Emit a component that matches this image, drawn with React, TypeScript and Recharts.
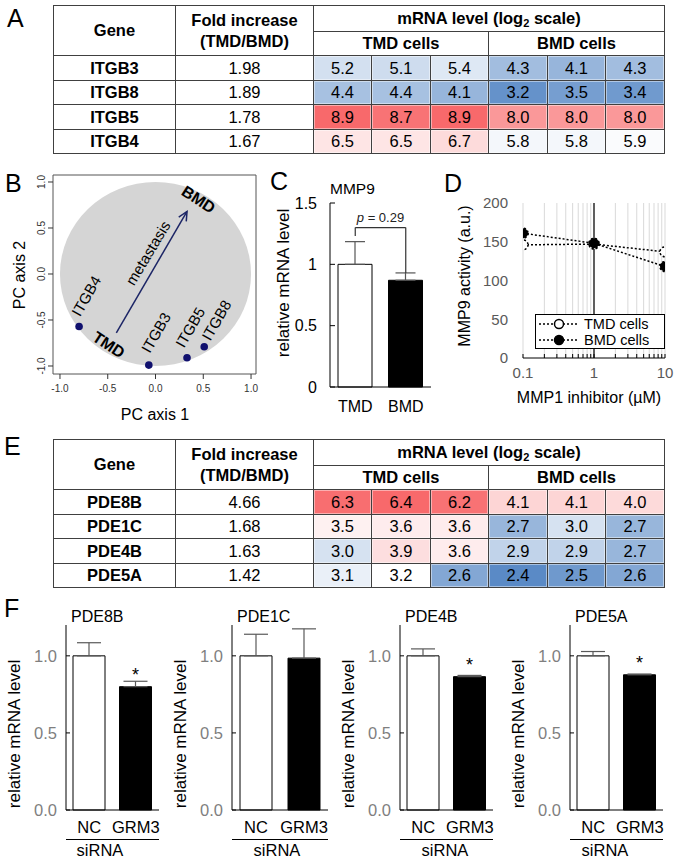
import React from 'react';
import {
  ScatterChart, Scatter, XAxis, YAxis, ReferenceArea, ReferenceLine,
  BarChart, Bar, Cell, ErrorBar, LabelList, LineChart, Line, CartesianGrid, Legend,
} from 'recharts';

const FONT = '"Liberation Sans", Arial, Helvetica, sans-serif';

// ---------------- Panel A : integrin table ----------------
const itgbGenes = ['ITGB3', 'ITGB8', 'ITGB5', 'ITGB4'];
const itgbFold = ['1.98', '1.89', '1.78', '1.67'];
const itgbTMD = [[5.2, 5.1, 5.4], [4.4, 4.4, 4.1], [8.9, 8.7, 8.9], [6.5, 6.5, 6.7]];
const itgbBMD = [[4.3, 4.1, 4.3], [3.2, 3.5, 3.4], [8.0, 8.0, 8.0], [5.8, 5.8, 5.9]];
const itgbColorScale = { lo: 3.0, mid: 6.0, hi: 8.9 };

// ---------------- Panel B : PCA ----------------
const pcaGeneNames = ['ITGB4', 'ITGB3', 'ITGB5', 'ITGB8'];
const pcaGenePC1 = [-0.80, -0.07, 0.33, 0.51];
const pcaGenePC2 = [-0.57, -0.99, -0.91, -0.79];
const pcaTicks = [-1, -0.5, 0, 0.5, 1];
const pcaDomainX = [-1.073, 1.052];
const pcaDomainY = [-1.087, 1.076];
const pcaCloudRange = [-1, 1];
const metastasisArrow = [{ x: -0.41, y: -0.64 }, { x: 0.33, y: 0.68 }];
const pcaGroupNames = ['TMD', 'BMD'];
const pcaGroupPC1 = [-0.49, 0.45];
const pcaGroupPC2 = [-0.77, 0.81];
const metastasisLabel = [{ name: 'metastasis', pc1: -0.08, pc2: 0.23 }];

// ---------------- Panel C : MMP9 ----------------
const mmp9Groups = ['TMD', 'BMD'];
const mmp9Level = [1.0, 0.87];
const mmp9Err = [0.185, 0.06];
const mmp9Ticks = [0, 0.5, 1, 1.5];
const mmp9Bracket = { top: 1.30, left: 1.23, right: 0.93 };

// ---------------- Panel D : MMP9 activity ----------------
const inhibitorDose = [0.1, 1, 10];
const tmdActivity = [146, 147, 137];
const bmdActivity = [161, 148, 118];
const activityTicks = [0, 50, 100, 150, 200];
const doseAxisTicks = [0.1, 0.2, 0.3, 0.4, 0.5, 0.6, 0.7, 0.8, 0.9, 1, 2, 3, 4, 5, 6, 7, 8, 9, 10];
const doseMajorTicks = [0.1, 1, 10];

// ---------------- Panel E : PDE table ----------------
const pdeGenes = ['PDE8B', 'PDE1C', 'PDE4B', 'PDE5A'];
const pdeFold = ['4.66', '1.68', '1.63', '1.42'];
const pdeTMD = [[6.3, 6.4, 6.2], [3.5, 3.6, 3.6], [3.0, 3.9, 3.6], [3.1, 3.2, 2.6]];
const pdeBMD = [[4.1, 4.1, 4.0], [2.7, 3.0, 2.7], [2.9, 2.9, 2.7], [2.4, 2.5, 2.6]];
const pdeColorScale = { lo: 2.4, mid: 3.2, hi: 6.4 };

// ---------------- Panel F : siRNA ----------------
const sirnaGroups = ['NC', 'GRM3'];
const sirnaLevels = [[1.0, 0.80], [1.0, 0.985], [1.0, 0.865], [1.0, 0.877]];
const sirnaErrs = [[0.085, 0.035], [0.14, 0.19], [0.045, 0.008], [0.028, 0.005]];
const sirnaStars = [['', '*'], ['', ''], ['', '*'], ['', '*']];
const sirnaTicks = [0, 0.5, 1];

// ---------------- helpers ----------------
const BLUE = [90, 138, 198];
const RED = [248, 105, 107];
function heat(v: number, s: { lo: number; mid: number; hi: number }) {
  let target = BLUE;
  let t = 0;
  if (v <= s.mid) { t = Math.min(1, (s.mid - v) / (s.mid - s.lo)); target = BLUE; }
  else { t = Math.min(1, (v - s.mid) / (s.hi - s.mid)); target = RED; }
  const c = target.map((k) => Math.round(255 + (k - 255) * t));
  return `rgb(${c.join(',')})`;
}

const TCOLS = [0, 122, 260, 318, 377, 435, 494, 552, 611];
const TROWS = [0, 26, 50, 75, 99, 124, 148];
const LINE = '#404040';

function ExprTable({ top, genes, fold, tmd, bmd, scale }: any) {
  const cells: any[] = [];
  const cell = (key: string, x0: number, x1: number, y0: number, y1: number, content: any, style: any = {}) => {
    cells.push(
      <div key={key} style={{
        position: 'absolute', left: x0, top: y0, width: x1 - x0 + 1, height: y1 - y0 + 1,
        border: `1px solid ${LINE}`, boxSizing: 'border-box', display: 'flex', alignItems: 'center',
        justifyContent: 'center', textAlign: 'center', ...style,
      }}>{content}</div>
    );
  };
  cell('h-gene', TCOLS[0], TCOLS[1], TROWS[0], TROWS[2], 'Gene', { fontWeight: 'bold' });
  cell('h-fold', TCOLS[1], TCOLS[2], TROWS[0], TROWS[2],
    <div style={{ lineHeight: '21px' }}>Fold increase<br />(TMD/BMD)</div>, { fontWeight: 'bold' });
  cell('h-mrna', TCOLS[2], TCOLS[8], TROWS[0], TROWS[1],
    <span>mRNA level (log<sub style={{ fontSize: 11, verticalAlign: -3 }}>2</sub> scale)</span>, { fontWeight: 'bold' });
  cell('h-tmd', TCOLS[2], TCOLS[5], TROWS[1], TROWS[2], 'TMD cells', { fontWeight: 'bold' });
  cell('h-bmd', TCOLS[5], TCOLS[8], TROWS[1], TROWS[2], 'BMD cells', { fontWeight: 'bold' });
  genes.forEach((g: string, r: number) => {
    const y0 = TROWS[r + 2];
    const y1 = TROWS[r + 3];
    cell(`g${r}`, TCOLS[0], TCOLS[1], y0, y1, g, { fontWeight: 'bold' });
    cell(`f${r}`, TCOLS[1], TCOLS[2], y0, y1, fold[r]);
    const vals = [...tmd[r], ...bmd[r]];
    vals.forEach((v: number, c: number) => {
      cell(`v${r}-${c}`, TCOLS[c + 2], TCOLS[c + 3], y0, y1, v.toFixed(1), {
        background: heat(v, scale), boxShadow: 'inset 0 0 0 1px rgba(255,255,255,0.45)',
      });
    });
  });
  return (
    <div style={{ position: 'absolute', left: 53, top, width: 612, height: 149, fontFamily: FONT, fontSize: 16.5, color: '#000' }}>
      {cells}
    </div>
  );
}

// ---------------- Panel B ----------------
const pcaGenePoints = pcaGeneNames.map((name, i) => ({ name, pc1: pcaGenePC1[i], pc2: pcaGenePC2[i] }));
const pcaGroupPoints = pcaGroupNames.map((name, i) => ({ name, pc1: pcaGroupPC1[i], pc2: pcaGroupPC2[i] }));
// label offsets in pixels (style only)
const geneLabelOffset: Record<string, [number, number]> = {
  ITGB4: [1, -9], ITGB3: [1, -11], ITGB5: [-3, -9], ITGB8: [6, -5],
};

const RotTick = (p: any) => (
  <text x={p.x} y={p.y} transform={`rotate(-90 ${p.x} ${p.y})`} textAnchor="middle" fontSize={10} fill="#333" fontFamily={FONT}>
    {Number(p.payload.value).toFixed(1)}
  </text>
);

const DiscShape = (p: any) => (
  <ellipse cx={p.x + p.width / 2} cy={p.y + p.height / 2} rx={Math.abs(p.width) / 2} ry={Math.abs(p.height) / 2} fill="#d5d5d5" />
);

const ArrowShape = (p: any) => {
  const { x1, y1, x2, y2 } = p;
  const a = Math.atan2(y2 - y1, x2 - x1);
  const L = 10;
  const s = 0.45;
  const hx1 = x2 - L * Math.cos(a - s);
  const hy1 = y2 - L * Math.sin(a - s);
  const hx2 = x2 - L * Math.cos(a + s);
  const hy2 = y2 - L * Math.sin(a + s);
  return (
    <g stroke="#1c2566" strokeWidth={1.5} fill="none">
      <line x1={x1} y1={y1} x2={x2} y2={y2} />
      <path d={`M${hx1},${hy1} L${x2},${y2} L${hx2},${hy2}`} />
    </g>
  );
};

const GeneDot = (p: any) => {
  const off = geneLabelOffset[p.payload.name] || [2, -9];
  const tx = p.cx + off[0];
  const ty = p.cy + off[1];
  return (
    <g>
      <circle cx={p.cx} cy={p.cy} r={3.8} fill="#10106e" />
      <text x={tx} y={ty} transform={`rotate(-60 ${tx} ${ty})`} fontSize={15} fontFamily={FONT} fill="#000">{p.payload.name}</text>
    </g>
  );
};

const GroupLabel = (p: any) => (
  <text x={p.cx} y={p.cy} transform={`rotate(33 ${p.cx} ${p.cy})`} textAnchor="middle" dominantBaseline="central"
    fontSize={16} fontWeight="bold" fontFamily={FONT} fill="#000">{p.payload.name}</text>
);

const MetLabel = (p: any) => (
  <text x={p.cx} y={p.cy} transform={`rotate(-59 ${p.cx} ${p.cy})`} textAnchor="middle" dominantBaseline="central"
    fontSize={15} fontFamily={FONT} fill="#000">{p.payload.name}</text>
);

function PanelB() {
  return (
    <ScatterChart width={262} height={265} margin={{ top: 15, right: 6, bottom: 21, left: 23 }}>
      <XAxis type="number" dataKey="pc1" domain={pcaDomainX} allowDataOverflow ticks={pcaTicks} interval={0}
        tickFormatter={(v: number) => v.toFixed(1)} height={30} axisLine={false} tickSize={5} tickMargin={6}
        tickLine={{ stroke: '#333' }} tick={{ fontSize: 10, fill: '#333', fontFamily: FONT }} />
      <YAxis type="number" dataKey="pc2" domain={pcaDomainY} allowDataOverflow ticks={pcaTicks} interval={0}
        width={30} axisLine={false} tickSize={5} tickMargin={3} tickLine={{ stroke: '#333' }} tick={RotTick} />
      <ReferenceArea x1={pcaCloudRange[0]} x2={pcaCloudRange[1]} y1={pcaCloudRange[0]} y2={pcaCloudRange[1]} shape={DiscShape} />
      <ReferenceLine segment={metastasisArrow} shape={ArrowShape} />
      <Scatter data={pcaGroupPoints} shape={GroupLabel} isAnimationActive={false} />
      <Scatter data={metastasisLabel} shape={MetLabel} isAnimationActive={false} />
      <Scatter data={pcaGenePoints} shape={GeneDot} isAnimationActive={false} />
      <ReferenceArea x1={pcaDomainX[0]} x2={pcaDomainX[1]} y1={pcaDomainY[0]} y2={pcaDomainY[1]} fill="none" fillOpacity={0} stroke="#555" strokeWidth={1} />
    </ScatterChart>
  );
}

// ---------------- Panel C ----------------
const mmp9Data = mmp9Groups.map((g, i) => ({ group: g, level: mmp9Level[i], err: [0, mmp9Err[i]] }));

function PanelC() {
  return (
    <BarChart width={170} height={250} data={mmp9Data} margin={{ top: 33, right: 9, left: 10, bottom: 3 }} barSize={34}>
      <XAxis dataKey="group" height={30} tickLine={false} tickSize={0} tickMargin={14} axisLine={{ stroke: '#000' }}
        tick={{ fill: '#000', fontSize: 16, fontFamily: FONT }} />
      <YAxis width={50} domain={[0, 1.5]} ticks={mmp9Ticks} interval={0} tickSize={-5} tickMargin={18}
        axisLine={{ stroke: '#000' }} tickLine={{ stroke: '#000' }} tickFormatter={(v: number) => String(v)}
        tick={{ fill: '#000', fontSize: 16, fontFamily: FONT }} />
      <Bar dataKey="level" stroke="#000" strokeWidth={1} isAnimationActive={false}>
        {mmp9Data.map((d, i) => <Cell key={d.group} fill={i === 0 ? '#fff' : '#000'} />)}
        <ErrorBar dataKey="err" width={10} stroke="#555" strokeWidth={1.2} direction="y" />
      </Bar>
      <ReferenceLine segment={[{ x: 'TMD', y: mmp9Bracket.left }, { x: 'TMD', y: mmp9Bracket.top }]} stroke="#333" strokeWidth={1.2} />
      <ReferenceLine segment={[{ x: 'BMD', y: mmp9Bracket.right }, { x: 'BMD', y: mmp9Bracket.top }]} stroke="#333" strokeWidth={1.2} />
      <ReferenceLine segment={[{ x: 'TMD', y: mmp9Bracket.top }, { x: 'BMD', y: mmp9Bracket.top }]} stroke="#333" strokeWidth={1.2}
        label={{
          content: (lp: any) => {
            const vb = lp.viewBox || {};
            return (
              <text x={vb.x + vb.width / 2} y={vb.y - 6} textAnchor="middle" fontSize={13} fontFamily={FONT} fill="#222">
                <tspan fontStyle="italic">p</tspan> = 0.29
              </text>
            );
          },
        }} />
    </BarChart>
  );
}

// ---------------- Panel D ----------------
const doseData = inhibitorDose.map((d, i) => ({ dose: d, tmd: tmdActivity[i], bmd: bmdActivity[i] }));
const legendSeries = [
  { key: 'tmd', label: 'TMD cells', fill: '#fff' },
  { key: 'bmd', label: 'BMD cells', fill: '#000' },
];

const DoseLegend = () => (
  <div style={{ width: 130, height: 35, border: '1px solid #000', background: '#fff', boxSizing: 'border-box', fontFamily: FONT, fontSize: 14.5, paddingTop: 1 }}>
    {legendSeries.map((it) => (
      <div key={it.key} style={{ display: 'flex', alignItems: 'center', height: 16, lineHeight: '16px' }}>
        <svg width={42} height={12} style={{ marginLeft: 2 }}>
          <line x1={1} x2={41} y1={6} y2={6} stroke="#000" strokeDasharray="2 2" strokeWidth={1.5} />
          <circle cx={21} cy={6} r={4.5} fill={it.fill} stroke="#000" strokeWidth={1.5} />
        </svg>
        <span style={{ marginLeft: 4 }}>{it.label}</span>
      </div>
    ))}
  </div>
);

function PanelD() {
  return (
    <LineChart width={235} height={250} data={doseData} margin={{ top: 33, right: 10, left: 23, bottom: 22 }}>
      <CartesianGrid horizontal={false} stroke="#d9d9d9" />
      <XAxis dataKey="dose" type="number" scale="log" domain={[0.1, 10]} allowDataOverflow ticks={doseAxisTicks} interval={0}
        tickFormatter={(v: number) => (doseMajorTicks.includes(v) ? String(v) : '')} height={40} tickSize={-4} tickMargin={13}
        axisLine={{ stroke: '#000' }} tickLine={{ stroke: '#000' }} tick={{ fill: '#595959', fontSize: 15, fontFamily: FONT }} />
      <YAxis type="number" domain={[0, 200]} ticks={activityTicks} interval={0} width={60} axisLine={false} tickLine={false}
        tickSize={0} tickMargin={15} tick={{ fill: '#595959', fontSize: 15, fontFamily: FONT }} />
      <ReferenceLine x={1} stroke="#000" strokeWidth={1.2} />
      <Line dataKey="tmd" name="TMD cells" stroke="#000" strokeDasharray="2 2" strokeWidth={1.5}
        dot={{ r: 5, fill: '#fff', stroke: '#000', strokeWidth: 1.5 }} isAnimationActive={false} />
      <Line dataKey="bmd" name="BMD cells" stroke="#000" strokeDasharray="2 2" strokeWidth={1.5}
        dot={{ r: 5, fill: '#000', stroke: '#000', strokeWidth: 1.5 }} isAnimationActive={false} />
      <Legend content={DoseLegend} layout="horizontal" verticalAlign="middle" align="center"
        wrapperStyle={{ left: 95, top: 144, width: 130, height: 35 }} />
    </LineChart>
  );
}

// ---------------- Panel F ----------------
const fLeft = [0, 170, 340, 510];
const fWidth = [170, 170, 170, 165];
const fPlotLeft = [66, 62, 60, 60];
const fRight = [11, 12, 17, 12];
const fSiRNACenter = [100, 277, 445, 605];

function PanelF({ idx }: { idx: number }) {
  const data = sirnaGroups.map((g, j) => ({
    group: g, level: sirnaLevels[idx][j], err: [0, sirnaErrs[idx][j]], star: sirnaStars[idx][j],
  }));
  return (
    <BarChart width={fWidth[idx]} height={258} data={data} barSize={32}
      margin={{ top: 25, right: fRight[idx], left: fPlotLeft[idx] - 50, bottom: 8 }}>
      <XAxis dataKey="group" height={40} tickLine={false} tickSize={0} tickMargin={11} axisLine={{ stroke: '#000' }}
        tick={{ fill: '#000', fontSize: 16.5, fontFamily: FONT }} />
      <YAxis width={50} domain={[0, 1.2]} ticks={sirnaTicks} interval={0} tickSize={-4} tickMargin={13}
        axisLine={{ stroke: '#000' }} tickLine={{ stroke: '#000' }} tickFormatter={(v: number) => v.toFixed(1)}
        tick={{ fill: '#7f7f7f', fontSize: 16.5, fontFamily: FONT }} />
      <Bar dataKey="level" stroke="#000" strokeWidth={1} isAnimationActive={false}>
        {data.map((d, i) => <Cell key={d.group} fill={i === 0 ? '#fff' : '#000'} />)}
        <ErrorBar dataKey="err" width={12} stroke="#595959" strokeWidth={1.2} direction="y" />
        <LabelList dataKey="star" position="top" offset={6} fontSize={18} fill="#000" fontFamily={FONT} />
      </Bar>
    </BarChart>
  );
}

// ---------------- overlay text ----------------
function Overlay() {
  const letter = (t: string, x: number, y: number) => (
    <text key={t} x={x} y={y} fontSize={25} fontFamily={FONT} fill="#000">{t}</text>
  );
  const vlabel = (t: string, x: number, y: number, fs: number, key: string) => (
    <text key={key} x={x} y={y} transform={`rotate(-90 ${x} ${y})`} textAnchor="middle" fontSize={fs} fontFamily={FONT} fill="#000">{t}</text>
  );
  return (
    <svg width={675} height={858} style={{ position: 'absolute', left: 0, top: 0, pointerEvents: 'none' }}>
      {letter('A', 7, 27)}
      {letter('B', 5, 192)}
      {letter('C', 270, 190)}
      {letter('D', 444, 192)}
      {letter('E', 4, 455)}
      {letter('F', 4, 617)}
      {vlabel('PC axis 2', 25, 275, 16, 'pc2')}
      <text x={155} y={420} textAnchor="middle" fontSize={16} fontFamily={FONT}>PC axis 1</text>
      <text x={330} y={194} fontSize={15.5} fontFamily={FONT}>MMP9</text>
      {vlabel('relative mRNA level', 289, 283, 17, 'cy')}
      {vlabel('MMP9 activity (a.u.)', 470, 276, 16, 'dy')}
      <text x={589} y={403} textAnchor="middle" fontSize={16} fontFamily={FONT}>MMP1 inhibitor (µM)</text>
      {pdeGenes.map((g, i) => {
        const pl = fLeft[i] + fPlotLeft[i];
        const pr = fLeft[i] + fWidth[i] - fRight[i];
        return (
          <g key={g}>
            <text x={pl + 5} y={622} fontSize={16} fontFamily={FONT}>{g}</text>
            {vlabel('relative mRNA level', pl - 46, 734, 17, `fy${i}`)}
            <line x1={pl} x2={pr} y1={839.5} y2={839.5} stroke="#000" strokeWidth={1} />
            <text x={fSiRNACenter[i]} y={856} textAnchor="middle" fontSize={16.5} fontFamily={FONT}>siRNA</text>
          </g>
        );
      })}
    </svg>
  );
}

export default function App() {
  return (
    <div style={{ position: 'absolute', left: 0, top: 0, width: 675, height: 858, background: '#fff', overflow: 'hidden', fontFamily: FONT }}>
      <ExprTable top={5} genes={itgbGenes} fold={itgbFold} tmd={itgbTMD} bmd={itgbBMD} scale={itgbColorScale} />
      <div style={{ position: 'absolute', left: 0, top: 160 }}><PanelB /></div>
      <div style={{ position: 'absolute', left: 270, top: 170 }}><PanelC /></div>
      <div style={{ position: 'absolute', left: 440, top: 170 }}><PanelD /></div>
      <ExprTable top={439} genes={pdeGenes} fold={pdeFold} tmd={pdeTMD} bmd={pdeBMD} scale={pdeColorScale} />
      {pdeGenes.map((g, i) => (
        <div key={g} style={{ position: 'absolute', left: fLeft[i], top: 600 }}><PanelF idx={i} /></div>
      ))}
      <Overlay />
    </div>
  );
}
